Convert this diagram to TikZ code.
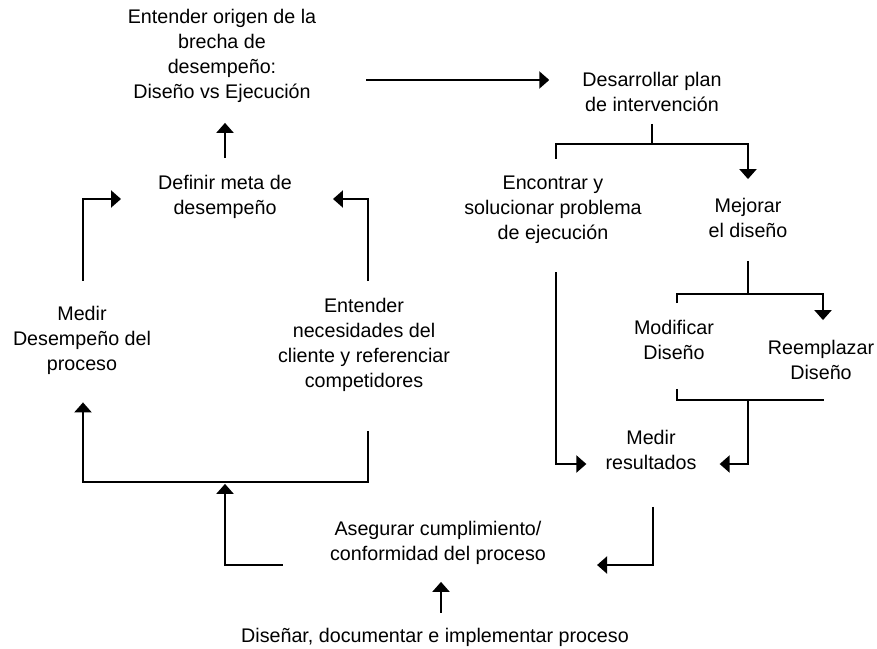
\documentclass[tikz,border=0pt]{standalone}
\usepackage{fontspec}
\setmainfont{Liberation Sans}
\usetikzlibrary{arrows.meta}

\begin{document}
\begin{tikzpicture}[x=1pt, y=-1pt,
  every node/.style={align=center, inner sep=0pt, font=\fontsize{19.7}{25}\selectfont},
  link/.style={line width=2.2pt},
  flow/.style={link, -{Triangle[width=17pt, length=10pt]}}]
\useasboundingbox (0,0) rectangle (877,648);
\node (origen) at (222,56) {Entender origen de la\\brecha de\\desempeño:\\Diseño vs Ejecución};
\node (plan) at (652,92) {Desarrollar plan\\de intervención};
\node (meta) at (225,197) {Definir meta de\\desempeño};
\node (encontrar) at (553,210) {Encontrar y\\solucionar problema\\de ejecución};
\node (mejorar) at (748,218) {Mejorar\\el diseño};
\node (medir) at (82,340) {Medir\\Desempeño del\\proceso};
\node (cliente) at (364,345) {Entender\\necesidades del\\cliente y referenciar\\competidores};
\node (modificar) at (674,340) {Modificar\\Diseño};
\node (reemplazar) at (821,360) {Reemplazar\\Diseño};
\node (resultados) at (651,450) {Medir\\resultados};
\node (asegurar) at (438,543) {Asegurar cumplimiento/\\conformidad del proceso};
\node (disenar) at (435,637) {Diseñar, documentar e implementar proceso};

\coordinate (split1) at ([yshift=-32pt]plan.south);
\coordinate (split2) at ([yshift=-56pt]mejorar.south);
\coordinate (merge) at ([yshift=-40pt]modificar.south -| mejorar.south);
\coordinate (join) at ([yshift=-90pt]cliente.south -| meta.south);

\draw[flow, shorten <=17pt, shorten >=20pt] (meta.north) -- (meta.north |- origen.south);
\draw[flow, shorten <=50pt, shorten >=33pt] ([yshift=12pt]origen.east |- plan.west) -- ([yshift=12pt]plan.west);
\draw[link] ([yshift=-12pt]plan.south) -- (split1);
\draw[flow] ([xshift=3pt, yshift=17pt]encontrar.north) |- (split1) -| ([yshift=19pt]mejorar.north);
\draw[link] ([yshift=-23pt]mejorar.south) -- (split2);
\draw[flow] ([xshift=3pt, yshift=17pt]modificar.north) |- (split2) -| ([xshift=2pt, yshift=20pt]reemplazar.north);
\draw[link] ([xshift=3pt, yshift=-29pt]modificar.south) |- ([xshift=3pt]reemplazar.south |- merge);
\draw[flow] (merge) |- ([xshift=23pt, yshift=-14pt]resultados.east);
\draw[flow] ([xshift=3pt, yshift=-28pt]encontrar.south) |- ([xshift=-19pt, yshift=-14pt]resultados.west);
\draw[flow] ([xshift=2pt, yshift=-37pt]resultados.south) |- ([xshift=51pt, yshift=-22pt]asegurar.east);
\draw[flow, shorten >=2pt] ([xshift=-47pt, yshift=-22pt]asegurar.west) -| (join);
\draw[flow] ([xshift=4pt, yshift=-39pt]cliente.south) |- (join) -| ([xshift=1pt, yshift=-28pt]medir.south);
\draw[flow] ([xshift=1pt, yshift=25pt]medir.north) |- ([xshift=-37pt, yshift=-2pt]meta.west);
\draw[flow] ([xshift=4pt, yshift=17pt]cliente.north) |- ([xshift=41pt, yshift=-2pt]meta.east);
\draw[flow, shorten <=15pt, shorten >=17pt] ([xshift=6pt]disenar.north) -- ([xshift=6pt]disenar.north |- asegurar.south);
\end{tikzpicture}
\end{document}
